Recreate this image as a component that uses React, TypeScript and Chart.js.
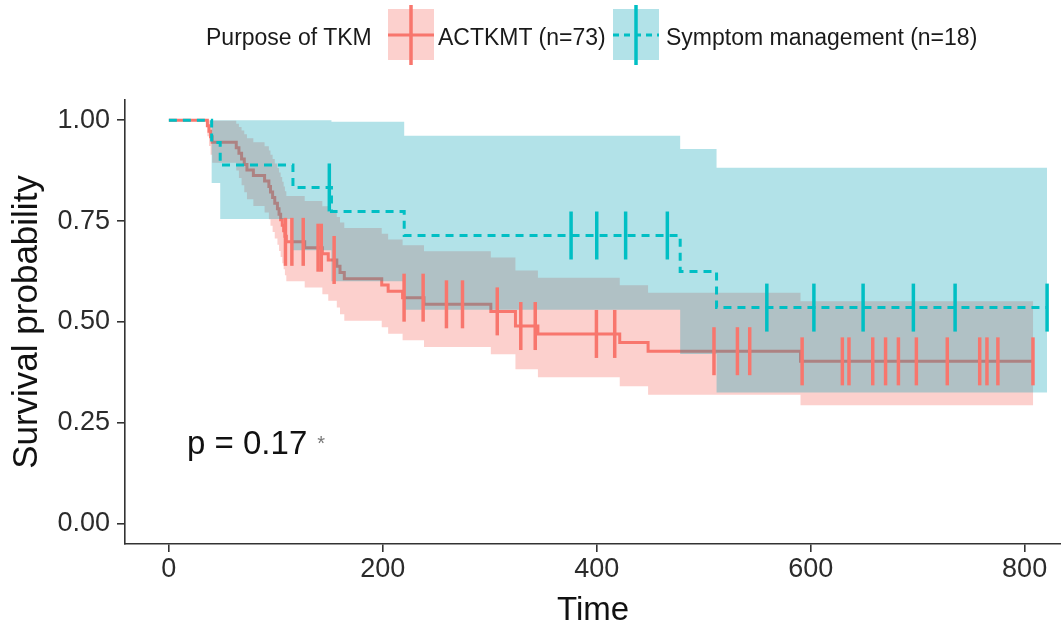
import React, { useEffect, useRef } from "react";
import { Chart, registerables } from "chart.js";

Chart.register(...registerables);

const FONT = "'Liberation Sans', Arial, Helvetica, sans-serif";

// ---- axes ----
const xTickValues = [0, 200, 400, 600, 800];
const yTickValues = [0, 0.25, 0.5, 0.75, 1];
const yTickLabels = ["0.00", "0.25", "0.50", "0.75", "1.00"];
const xTitle = "Time";
const yTitle = "Survival probability";

// ---- legend ----
const legendTitle = "Purpose of TKM";
const groupLabels = ["ACTKMT (n=73)", "Symptom management (n=18)"];

// ---- p-value annotation ----
const pValueText = "p = 0.17";
const pValuePos = [17, 0.195];

// ---- ACTKMT (n=73) ----
const actTime = [0, 36, 37.5, 39, 40.5, 63, 65.5, 68, 70.5, 73, 79, 89.5, 93.5, 95, 97, 99, 101.5, 103, 104.5, 106, 107.3, 108.5, 109.8, 127, 143.5, 149, 157, 160, 164, 199, 205, 218.5, 238.5, 301, 324, 345, 421.5, 448, 590.5, 808];
const actSurv = [1, 0.9863, 0.9726, 0.9589, 0.9452, 0.9315, 0.9178, 0.9041, 0.8904, 0.8767, 0.863, 0.8493, 0.8356, 0.8219, 0.8082, 0.7945, 0.7808, 0.7671, 0.7534, 0.7397, 0.726, 0.7123, 0.6986, 0.6841, 0.6689, 0.6537, 0.6381, 0.6226, 0.607, 0.5914, 0.5759, 0.5603, 0.5438, 0.5263, 0.49, 0.4704, 0.449, 0.4276, 0.4025, 0.4025];
const actUpper = [1, 1, 1, 1, 0.9989, 0.9913, 0.983, 0.9742, 0.965, 0.9555, 0.9456, 0.9355, 0.9251, 0.9145, 0.9038, 0.8928, 0.8817, 0.8705, 0.8591, 0.8476, 0.8359, 0.8241, 0.8122, 0.7998, 0.7868, 0.7736, 0.7601, 0.7465, 0.7327, 0.7187, 0.7047, 0.6904, 0.6755, 0.6599, 0.6273, 0.6098, 0.5912, 0.5722, 0.5513, 0.5513];
const actLower = [1, 0.96, 0.9359, 0.9144, 0.8944, 0.8753, 0.8569, 0.839, 0.8216, 0.8044, 0.7876, 0.7711, 0.7548, 0.7387, 0.7228, 0.707, 0.6915, 0.676, 0.6608, 0.6456, 0.6306, 0.6157, 0.6009, 0.5852, 0.5687, 0.5524, 0.5357, 0.5193, 0.5029, 0.4867, 0.4706, 0.4547, 0.4378, 0.4198, 0.3828, 0.3629, 0.341, 0.3195, 0.2939, 0.2939];
const actCensorTime = [109, 115, 125.6, 139.5, 142.5, 154.5, 219.9, 237.7, 259.5, 274.5, 307, 329, 342.5, 399.7, 416.8, 509.6, 531.5, 543, 592, 629.6, 635.8, 658, 670, 682, 698.8, 727.7, 758, 764.8, 775, 807.8];
const actCensorSurv = [0.6986, 0.6986, 0.6986, 0.6841, 0.6841, 0.6537, 0.5603, 0.5603, 0.5438, 0.5438, 0.5263, 0.49, 0.49, 0.4704, 0.4704, 0.4276, 0.4276, 0.4276, 0.4025, 0.4025, 0.4025, 0.4025, 0.4025, 0.4025, 0.4025, 0.4025, 0.4025, 0.4025, 0.4025, 0.4025];

// ---- Symptom management (n=18) ----
const smTime = [0, 40, 48, 116, 152, 220, 478, 512, 821];
const smSurv = [1, 0.9444, 0.8889, 0.8333, 0.7738, 0.7143, 0.625, 0.5357, 0.5357];
const smUpper = [1, 1, 1, 1, 0.9962, 0.9616, 0.9289, 0.8819, 0.8819];
const smLower = [1, 0.8443, 0.7549, 0.6778, 0.6011, 0.5306, 0.4205, 0.3254, 0.3254];
const smCensorTime = [150, 376, 400, 427, 466, 559, 603, 649, 696, 735, 821];
const smCensorSurv = [0.8333, 0.7143, 0.7143, 0.7143, 0.7143, 0.5357, 0.5357, 0.5357, 0.5357, 0.5357, 0.5357];

const RED = "#F8766D";
const TEAL = "#00BFC4";
const RED_BAND = "rgba(246,112,104,0.33)";
const TEAL_BAND = "rgba(0,158,178,0.3)";
const AXIS = "#333333";

const pts = (xs: number[], ys: number[]) => xs.map((x, i) => ({ x, y: ys[i] }));

const bandLine = (data: any, order: number, fill: any, bg: string) => ({
  data,
  stepped: "before",
  borderColor: "rgba(0,0,0,0)",
  borderWidth: 1,
  pointRadius: 0,
  pointHoverRadius: 0,
  fill,
  backgroundColor: bg,
  order,
});

const censorSet = (data: any, color: string, order: number) => ({
  data,
  showLine: false,
  pointStyle: "line",
  pointRotation: 90,
  pointRadius: 24,
  pointHoverRadius: 24,
  pointBorderWidth: 3.5,
  pointBorderColor: color,
  pointBackgroundColor: color,
  borderColor: color,
  order,
});

const pValuePlugin = {
  id: "pvalue",
  afterDatasetsDraw(chart: any) {
    const { ctx, scales } = chart;
    const px = scales.x.getPixelForValue(pValuePos[0]);
    const py = scales.y.getPixelForValue(pValuePos[1]);
    ctx.save();
    ctx.font = `33px ${FONT}`;
    ctx.fillStyle = "#111111";
    ctx.textAlign = "left";
    ctx.textBaseline = "middle";
    ctx.fillText(pValueText, px, py);
    const w = ctx.measureText(pValueText).width;
    ctx.font = `20px ${FONT}`;
    ctx.fillStyle = "#777777";
    ctx.fillText("*", px + w + 10, py - 1);
    ctx.restore();
  },
};

function LegendKey({ left, color, band, dashed }: { left: number; color: string; band: string; dashed: boolean }) {
  return (
    <svg width={46} height={62} style={{ position: "absolute", left, top: 4 }}>
      <rect x={0} y={5} width={46} height={51} fill={band} />
      <line x1={0} y1={31} x2={46} y2={31} stroke={color} strokeWidth={3} strokeDasharray={dashed ? "6 5" : undefined} />
      <line x1={23} y1={1} x2={23} y2={61} stroke={color} strokeWidth={3.5} />
    </svg>
  );
}

const legendText: React.CSSProperties = {
  position: "absolute",
  top: 22,
  height: 30,
  lineHeight: "30px",
  fontFamily: FONT,
  fontSize: 23,
  color: "#1a1a1a",
  whiteSpace: "nowrap",
};

export default function App() {
  const ref = useRef<HTMLCanvasElement>(null);

  useEffect(() => {
    const canvas = ref.current;
    if (!canvas) return;
    const chart = new Chart(canvas, {
      type: "line",
      data: {
        datasets: [
          bandLine(pts(actTime, actLower), 10, false, "rgba(0,0,0,0)"),
          bandLine(pts(actTime, actUpper), 9, "-1", RED_BAND),
          {
            data: pts(actTime, actSurv),
            stepped: "before",
            borderColor: RED,
            borderWidth: 3,
            pointRadius: 0,
            pointHoverRadius: 0,
            fill: false,
            order: 8,
          },
          bandLine(pts(smTime, smLower), 7, false, "rgba(0,0,0,0)"),
          bandLine(pts(smTime, smUpper), 6, "-1", TEAL_BAND),
          {
            data: pts(smTime, smSurv),
            stepped: "before",
            borderColor: TEAL,
            borderWidth: 3,
            borderDash: [8, 6],
            pointRadius: 0,
            pointHoverRadius: 0,
            fill: false,
            order: 5,
          },
          censorSet(pts(actCensorTime, actCensorSurv), RED, 4),
          censorSet(pts(smCensorTime, smCensorSurv), TEAL, 3),
        ] as any,
      },
      options: {
        animation: false,
        responsive: false,
        maintainAspectRatio: false,
        events: [],
        layout: { autoPadding: false, padding: { top: 100, right: 0, bottom: 0, left: 0 } },
        plugins: {
          legend: { display: false },
          tooltip: { enabled: false },
        },
        scales: {
          x: {
            type: "linear",
            min: -41,
            max: 834,
            afterBuildTicks: (s: any) => {
              s.ticks = xTickValues.map((v) => ({ value: v }));
            },
            afterFit: (s: any) => {
              s.height = 91;
            },
            ticks: {
              autoSkip: false,
              maxRotation: 0,
              padding: 1,
              color: "#2b2b2b",
              font: { family: FONT, size: 27 },
              callback: (v: any) => String(v),
            },
            grid: {
              display: true,
              drawOnChartArea: false,
              drawTicks: true,
              tickLength: 8,
              color: AXIS,
              lineWidth: 1.6,
            },
            border: { display: true, color: AXIS, width: 1.6 },
            title: {
              display: true,
              text: xTitle,
              color: "#111111",
              font: { family: FONT, size: 33 },
              padding: { top: 0, bottom: 4 },
            },
          },
          y: {
            type: "linear",
            min: -0.05,
            max: 1.05,
            afterBuildTicks: (s: any) => {
              s.ticks = yTickValues.map((v) => ({ value: v }));
            },
            afterFit: (s: any) => {
              s.width = 125;
            },
            ticks: {
              autoSkip: false,
              padding: 7,
              color: "#2b2b2b",
              font: { family: FONT, size: 27 },
              callback: (v: any) => {
                const i = yTickValues.indexOf(Number(v));
                return i >= 0 ? yTickLabels[i] : "";
              },
            },
            grid: {
              display: true,
              drawOnChartArea: false,
              drawTicks: true,
              tickLength: 8,
              color: AXIS,
              lineWidth: 1.6,
            },
            border: { display: true, color: AXIS, width: 1.6 },
            title: {
              display: true,
              text: yTitle,
              color: "#111111",
              font: { family: FONT, size: 35 },
              padding: { top: 6, bottom: 0 },
            },
          },
        },
      } as any,
      plugins: [pValuePlugin],
    });
    return () => chart.destroy();
  }, []);

  return (
    <div style={{ position: "absolute", left: 0, top: 0, width: 1061, height: 635, background: "#ffffff", overflow: "hidden" }}>
      <canvas ref={ref} width={1061} height={635} style={{ position: "absolute", left: 0, top: 0, display: "block" }} />
      <div style={{ ...legendText, left: 206 }}>{legendTitle}</div>
      <LegendKey left={388} color={RED} band={RED_BAND} dashed={false} />
      <div style={{ ...legendText, left: 438 }}>{groupLabels[0]}</div>
      <LegendKey left={613} color={TEAL} band={TEAL_BAND} dashed={true} />
      <div style={{ ...legendText, left: 666 }}>{groupLabels[1]}</div>
    </div>
  );
}
